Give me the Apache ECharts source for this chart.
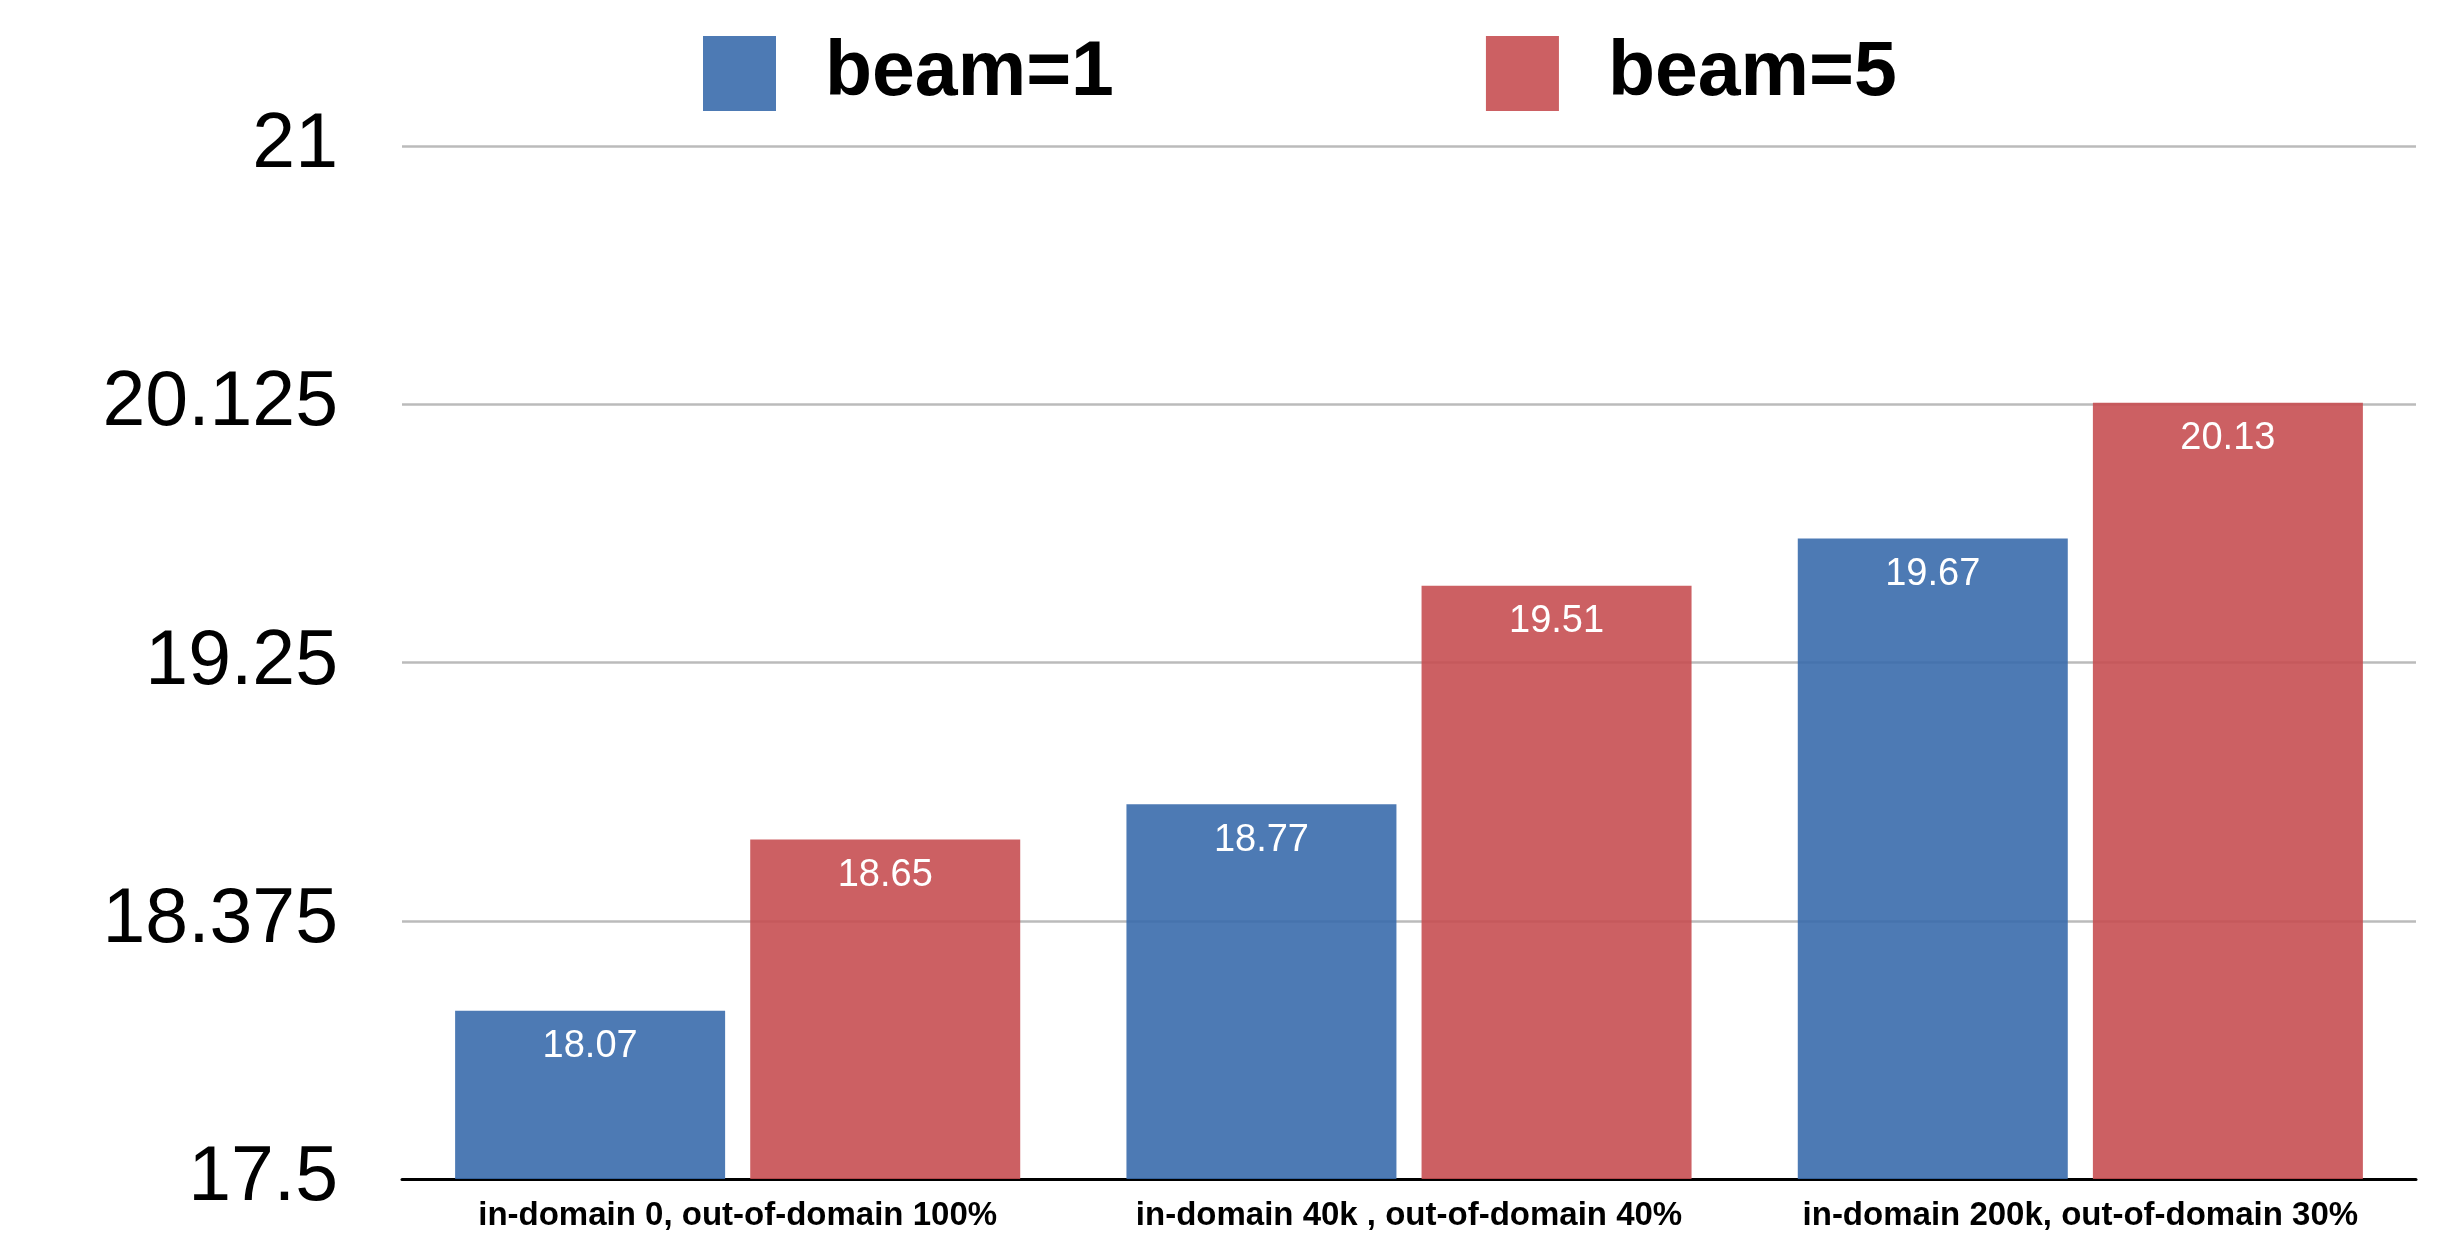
<!DOCTYPE html>
<html>
<head>
<meta charset="utf-8">
<script src="https://cdn.jsdelivr.net/npm/echarts@6/dist/echarts.min.js"></script>
<style>
html,body{margin:0;padding:0;background:#fff;}
#chart{width:2444px;height:1233px;}
</style>
</head>
<body>
<div id="chart"></div>
<script>
const categories = ['in-domain 0, out-of-domain 100%', 'in-domain 40k , out-of-domain 40%', 'in-domain 200k, out-of-domain 30%'];
const beam1 = [18.07, 18.77, 19.67];
const beam5 = [18.65, 19.51, 20.13];
const seriesNames = ['beam=1', 'beam=5'];
const yMin = 17.5, yMax = 21, yInterval = 0.875;

const FONT = '"Liberation Sans", Arial, Helvetica, sans-serif';
const chart = echarts.init(document.getElementById('chart'));
const labelCfg = {
  show: true, position: 'insideTop', distance: 17,
  color: '#fff', fontSize: 38, fontFamily: FONT,
  formatter: p => p.value.toFixed(2)
};
chart.setOption({
  animation: false,
  backgroundColor: '#fff',
  textStyle: {fontFamily: FONT},
  legend: {
    left: 698, top: 30,
    icon: 'rect', itemWidth: 73, itemHeight: 75, itemGap: 372,
    textStyle: {fontSize: 77, fontWeight: 'bold', color: '#000', fontFamily: FONT, padding: [0,0,0,44]},
    data: seriesNames
  },
  grid: {left: 402, right: 28, top: 146, bottom: 54, containLabel: false},
  xAxis: {
    type: 'category', data: categories,
    axisLine: {lineStyle: {color: '#000', width: 3}},
    axisTick: {show: false},
    axisLabel: {interval: 0, hideOverlap: false, fontSize: 33, fontWeight: 'bold', color: '#000', margin: 20, fontFamily: FONT}
  },
  yAxis: {
    type: 'value', min: yMin, max: yMax, interval: yInterval,
    axisLine: {show: false}, axisTick: {show: false},
    axisLabel: {fontSize: 77, color: '#000', margin: 64, fontFamily: FONT,
      formatter: v => String(+v.toFixed(3))},
    splitLine: {lineStyle: {color: '#bbbbbb', width: 2.5}}
  },
  series: [
    {name: seriesNames[0], type: 'bar', data: beam1, barWidth: 270, barGap: '9.3%',
     itemStyle: {color: 'rgba(58,107,172,0.9)'}, label: labelCfg},
    {name: seriesNames[1], type: 'bar', data: beam5, barWidth: 270, barGap: '9.3%',
     itemStyle: {color: 'rgba(198,79,82,0.9)'}, label: labelCfg}
  ]
});
</script>
</body>
</html>
